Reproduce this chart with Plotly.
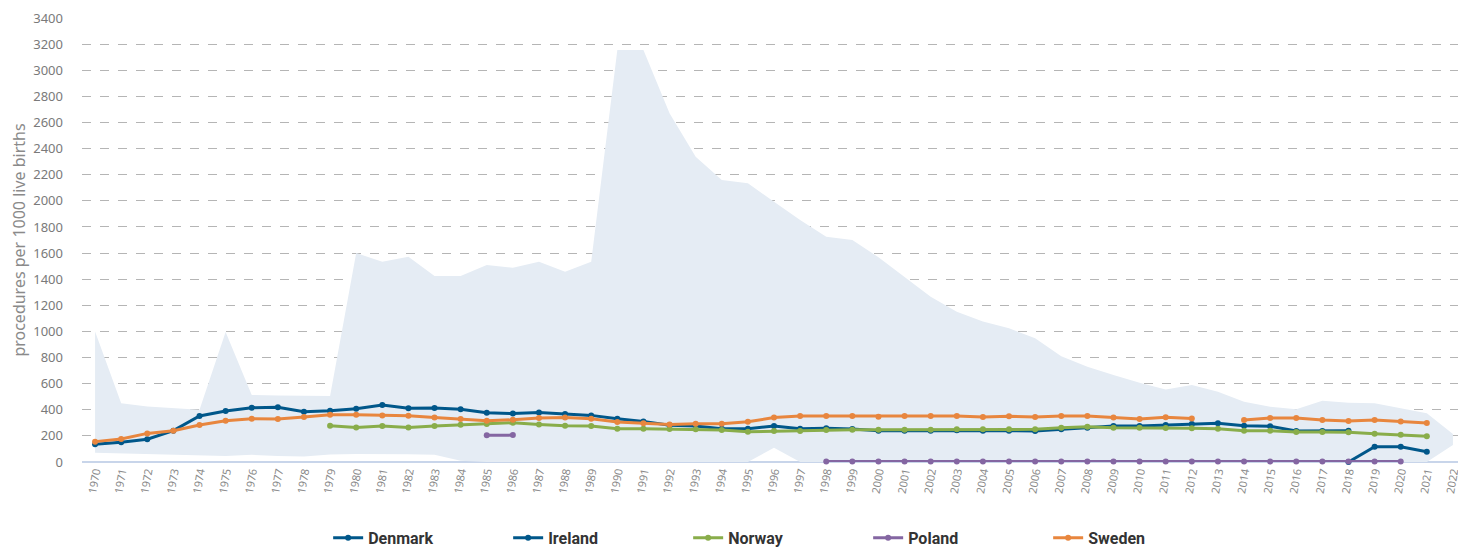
import plotly.graph_objects as go

# Years shown on the x axis
years = list(range(1970, 2023))

# Range band (min / max across all reporting countries)
band_years = list(range(1970, 2023))
band_upper = [1000, 450, 425, 415, 400, 995, 513, 510, 505, 505,
              1600, 1534, 1572, 1424, 1424, 1508, 1488, 1534, 1457, 1534,
              3155, 3155, 2670, 2338, 2160, 2135, 1993, 1853, 1725, 1700,
              1568, 1419, 1266, 1151, 1075, 1024, 947, 810, 730, 666,
              607, 556, 590, 538, 462, 423, 403, 469, 454, 449,
              411, 373, 215]
band_lower = [70, 65, 60, 55, 45, 45, 55, 45, 42, 57,
              62, 62, 60, 55, 10, 0, 0, 0, 0, 0,
              0, 0, 0, 0, 0, 0, 110, 0, 0, 0,
              0, 0, 0, 0, 0, 0, 0, 0, 0, 0,
              0, 0, 0, 0, 0, 0, 0, 0, 0, 0,
              0, 0, 130]

# Country series
denmark_years = list(range(1970, 2019))
denmark = [135, 151, 174, 240, 352, 390, 416, 419, 385, 393,
           408, 436, 411, 413, 403, 378, 371, 379, 368, 357,
           332, 311, 281, 276, 255, 255, 276, 255, 258, 253,
           240, 240, 240, 244, 240, 240, 237, 250, 263, 276,
           276, 283, 291, 296, 278, 273, 237, 237, 240]

ireland_years = [2018, 2019, 2020, 2021]
ireland = [0, 117, 117, 79]

norway_years = list(range(1979, 2022))
norway = [278, 265, 276, 265, 276, 286, 291, 301, 288, 278,
          276, 255, 255, 253, 250, 245, 232, 237, 237, 245,
          247, 247, 247, 247, 250, 250, 250, 250, 263, 270,
          263, 263, 260, 258, 255, 240, 240, 230, 230, 227,
          217, 209, 197]

poland_years = [1985, 1986, None] + list(range(1998, 2021))
poland = [204, 206, None] + [3] * 23

sweden_years = list(range(1970, 2013)) + [None] + list(range(2014, 2022))
sweden = [156, 176, 219, 240, 283, 316, 332, 329, 345, 362,
          362, 357, 355, 340, 329, 316, 324, 337, 340, 332,
          306, 296, 288, 293, 293, 309, 340, 352, 352, 352,
          347, 352, 352, 352, 345, 350, 345, 352, 352, 340,
          329, 342, 334, None,
          322, 337, 337, 322, 314, 322, 311, 299]

colors = {
    'Denmark': '#00578a',
    'Ireland': '#00578a',
    'Norway': '#89ad4a',
    'Poland': '#8466a2',
    'Sweden': '#e8863e',
    'band': '#e5ecf4',
}

fig = go.Figure()

# Grey band behind the lines
fig.add_trace(go.Scatter(
    x=band_years, y=band_lower, mode='lines',
    line=dict(width=0), showlegend=False, hoverinfo='skip',
))
fig.add_trace(go.Scatter(
    x=band_years, y=band_upper, mode='lines',
    line=dict(width=0), fill='tonexty', fillcolor=colors['band'],
    showlegend=False, hoverinfo='skip',
))

series = [
    ('Denmark', denmark_years, denmark),
    ('Ireland', ireland_years, ireland),
    ('Norway', norway_years, norway),
    ('Poland', poland_years, poland),
    ('Sweden', sweden_years, sweden),
]

for name, xs, ys in series:
    fig.add_trace(go.Scatter(
        x=xs, y=ys, name=name, mode='lines+markers',
        line=dict(color=colors[name], width=3),
        marker=dict(color=colors[name], size=6),
        cliponaxis=False,
    ))

fig.update_xaxes(
    range=[1969.5, 2022.5],
    tickvals=years,
    ticktext=[str(y) for y in years],
    tickangle=-80,
    tickfont=dict(family='Noto Sans', size=11, color='#8a8a8a'),
    showgrid=False,
    zeroline=False,
    showline=False,
)

fig.update_yaxes(
    range=[0, 3400],
    dtick=200,
    tickfont=dict(family='Noto Sans', size=13, color='#7a7a7a'),
    ticklabelstandoff=18,
    showgrid=True,
    gridcolor='#b5b5b5',
    griddash='dash',
    gridwidth=1,
    zeroline=True,
    zerolinecolor='#c8d5ea',
    zerolinewidth=2,
    title=dict(text='procedures per 1000 live births',
               font=dict(family='Noto Sans', size=16, color='#8a8a8a'),
               standoff=6),
)

# The page adds an 8px body margin, so the figure is sized to fit inside it
fig.update_layout(
    width=1458,
    height=539,
    margin=dict(l=74, r=0, t=10, b=85, autoexpand=False),
    plot_bgcolor='white',
    paper_bgcolor='white',
    showlegend=True,
    legend=dict(
        orientation='h',
        traceorder='normal',
        x=0.503, xanchor='center',
        y=-0.171, yanchor='middle',
        entrywidth=135,
        font=dict(family='Roboto', size=16, color='#333333', weight='bold'),
    ),
)

fig.write_html('out.html')
